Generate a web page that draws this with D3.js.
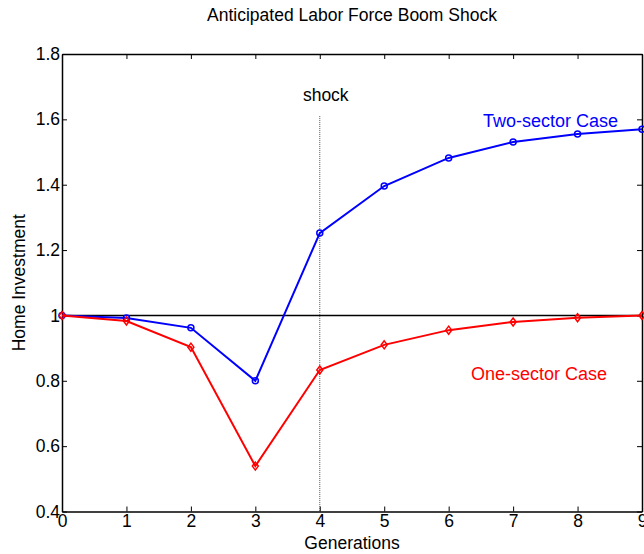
<!DOCTYPE html>
<html lang="en">
  <head>
    <meta charset="utf-8">
    <title>Anticipated Labor Force Boom Shock</title>
    <script src="https://d3js.org/d3.v7.min.js"></script>
    <style type="text/css">
      html, body { margin: 0; padding: 0; background: #fff; }
      svg { font-family: "Liberation Sans", Arial, Helvetica, sans-serif; }
    </style>
  </head>
  <body>
    <svg width="644" height="554"></svg>
    <script type="text/javascript">

      // data
      var generations = [0, 1, 2, 3, 4, 5, 6, 7, 8, 9];
      var twoSector = [1.0, 0.992, 0.962, 0.80, 1.252, 1.396, 1.482, 1.531, 1.555, 1.570];
      var oneSector = [1.0, 0.983, 0.903, 0.539, 0.833, 0.91, 0.955, 0.98, 0.993, 1.0];
      var yTicks = [0.4, 0.6, 0.8, 1, 1.2, 1.4, 1.6, 1.8];
      var xTicks = [0, 1, 2, 3, 4, 5, 6, 7, 8, 9];
      var shockAt = 4;

      // plot box (not "top": that name is taken by window.top)
      var mLeft = 62, mRight = 642, mTop = 54, mBottom = 511.5;
      var fs = "17.5px";

      var x = d3.scaleLinear().domain([0, 9]).range([mLeft, mRight]);
      var y = d3.scaleLinear().domain([0.4, 1.8]).range([mBottom, mTop]);

      var svg = d3.select("svg");

      // title
      svg.append("text")
         .attr("x", (mLeft + mRight) / 2).attr("y", 21)
         .attr("text-anchor", "middle")
         .style("font-size", fs)
         .text("Anticipated Labor Force Boom Shock");

      // axes (ticks inside, on all four sides)
      var tickFmt = function(d) { return String(+d.toFixed(1)); };
      var axB = svg.append("g").attr("transform", "translate(0," + mBottom + ")")
         .call(d3.axisBottom(x).tickValues(xTicks).tickSizeInner(-5).tickSizeOuter(0).tickPadding(3));
      var axT = svg.append("g").attr("transform", "translate(0," + mTop + ")")
         .call(d3.axisTop(x).tickValues(xTicks).tickSizeInner(-5).tickSizeOuter(0).tickFormat(""));
      var axL = svg.append("g").attr("transform", "translate(" + mLeft + ",0)")
         .call(d3.axisLeft(y).tickValues(yTicks).tickSizeInner(-5).tickSizeOuter(0).tickPadding(2).tickFormat(tickFmt));
      var axR = svg.append("g").attr("transform", "translate(" + mRight + ",0)")
         .call(d3.axisRight(y).tickValues(yTicks).tickSizeInner(-5).tickSizeOuter(0).tickFormat(""));

      [axB, axT, axL, axR].forEach(function(g) {
        g.selectAll("path.domain").attr("stroke", "#000").attr("stroke-width", 1.5);
        g.selectAll(".tick line").attr("stroke", "#000");
        g.selectAll("text").attr("fill", "#000").style("font-size", fs);
        g.attr("font-family", null).attr("font-size", null);
      });
      axB.selectAll("text").attr("dy", "0.72em");

      // axis labels
      svg.append("text")
         .attr("x", (mLeft + mRight) / 2).attr("y", 549)
         .attr("text-anchor", "middle")
         .style("font-size", fs)
         .text("Generations");
      svg.append("text")
         .attr("transform", "translate(25," + ((mTop + mBottom) / 2) + ") rotate(-90)")
         .attr("text-anchor", "middle")
         .style("font-size", fs)
         .text("Home Investment");

      // baseline at 1
      svg.append("line")
         .attr("x1", mLeft).attr("x2", mRight)
         .attr("y1", y(1)).attr("y2", y(1))
         .attr("stroke", "#000").attr("stroke-width", 1.5);

      // shock marker
      svg.append("line")
         .attr("x1", x(shockAt)).attr("x2", x(shockAt))
         .attr("y1", y(1.61)).attr("y2", mBottom)
         .attr("stroke", "#555").attr("stroke-width", 1)
         .attr("stroke-dasharray", "1,1");
      svg.append("text")
         .attr("x", x(shockAt) + 6).attr("y", y(1.655))
         .attr("text-anchor", "middle")
         .style("font-size", fs)
         .text("shock");

      var line = d3.line()
                   .x(function(d, i) { return x(generations[i]); })
                   .y(function(d) { return y(d); });

      // two-sector (blue, circles)
      svg.append("path").datum(twoSector)
         .attr("d", line).attr("fill", "none")
         .attr("stroke", "#0000ff").attr("stroke-width", 2);
      svg.selectAll("circle.two").data(twoSector).enter()
         .append("circle").attr("class", "two")
         .attr("cx", function(d, i) { return x(generations[i]); })
         .attr("cy", function(d) { return y(d); })
         .attr("r", 3)
         .attr("fill", "none").attr("stroke", "#0000ff").attr("stroke-width", 1.5);

      // one-sector (red, diamonds)
      svg.append("path").datum(oneSector)
         .attr("d", line).attr("fill", "none")
         .attr("stroke", "#ff0000").attr("stroke-width", 2);
      svg.selectAll("path.one").data(oneSector).enter()
         .append("path").attr("class", "one")
         .attr("d", function(d, i) {
           var cx = x(generations[i]), cy = y(d);
           return "M" + cx + "," + (cy - 4) + "L" + (cx + 3) + "," + cy +
                  "L" + cx + "," + (cy + 4) + "L" + (cx - 3) + "," + cy + "Z";
         })
         .attr("fill", "none").attr("stroke", "#ff0000").attr("stroke-width", 1.5);

      // series labels
      svg.append("text")
         .attr("x", 483).attr("y", 127)
         .attr("fill", "#0000ff")
         .style("font-size", "18px")
         .text("Two-sector Case");
      svg.append("text")
         .attr("x", 471).attr("y", 380)
         .attr("fill", "#ff0000")
         .style("font-size", "18px")
         .text("One-sector Case");

    </script>
  </body>
</html>
